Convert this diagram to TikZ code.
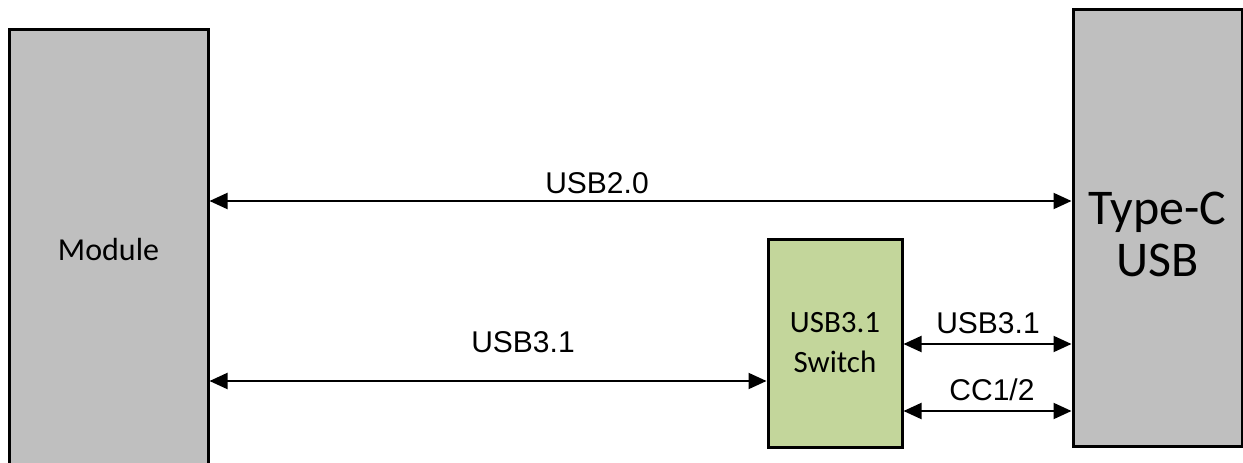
\documentclass[tikz,border=0pt]{standalone}
\usepackage{fontspec}
\setmainfont{Liberation Sans}
\newfontfamily\calibri{Carlito}
\usetikzlibrary{arrows.meta}

\definecolor{boxgray}{HTML}{BFBFBF}
\definecolor{switchgreen}{HTML}{C3D69B}

\tikzset{
  block/.style={draw=black,line width=1.5pt,fill=boxgray,inner sep=0pt,align=center,font=\calibri},
  link/.style={line width=1pt,{Triangle[length=9pt,width=8pt]}-{Triangle[length=9pt,width=8pt]}},
  sig/.style={anchor=base,inner sep=0pt,font=\fontsize{15}{18}\selectfont},
}

\begin{document}
\begin{tikzpicture}[x=0.5pt,y=0.5pt]
\clip (0,0) rectangle (1243,462);
% blocks
\node[block,minimum width=99.5pt,minimum height=221pt,font=\calibri\fontsize{16}{19}\selectfont] (module) at (108.5,212) {Module};
\node[block,minimum width=84.5pt,minimum height=218.5pt] (typec) at (1157.5,234.5) {};
\node[align=center,inner sep=0pt,font=\calibri\fontsize{25}{26}\selectfont] (typectext) at ([yshift=-3.5pt]typec.center) {Type-C\\USB};
\node[block,fill=switchgreen,minimum width=67pt,minimum height=104pt,font=\calibri\fontsize{15.5}{20}\selectfont] (switch) at (835,119) {USB3.1\\Switch};
% links
\draw[link] (module.east |- 0,261) -- (typec.west |- 0,261);
\draw[link] (module.east |- 0,81) -- (switch.west |- 0,81);
\draw[link] (switch.east |- 0,118) -- (typec.west |- 0,118);
\draw[link] (switch.east |- 0,51) -- (typec.west |- 0,51);
% link labels
\node[sig] (usbtwo) at (597,269) {USB2.0};
\node[sig] (usbthree) at (523,110) {USB3.1};
\node[sig] (usbthreesw) at (988,129) {USB3.1};
\node[sig] (ccpin) at (992,62) {CC1/2};
\end{tikzpicture}
\end{document}
